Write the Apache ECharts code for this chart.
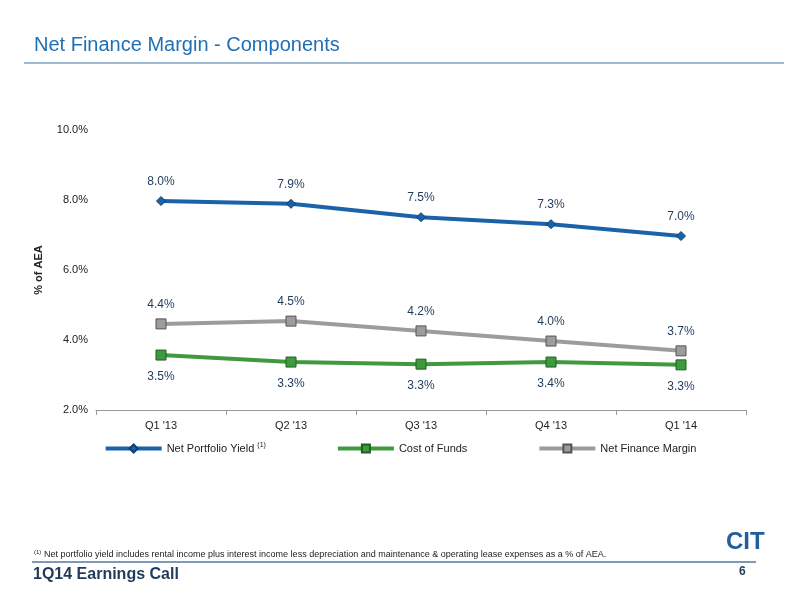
<!DOCTYPE html><html><head><meta charset="utf-8"><script src="https://cdn.jsdelivr.net/npm/echarts@6/dist/echarts.min.js"></script>
<style>body{margin:0}#c{width:800px;height:600px}</style></head><body><div id="c"></div><script>
const categories=["Q1 '13","Q2 '13","Q3 '13","Q4 '13","Q1 '14"];
const netPortfolioYield=[7.97,7.89,7.51,7.31,6.97];
const costOfFunds=[3.57,3.37,3.31,3.37,3.29];
const netFinanceMargin=[4.46,4.54,4.26,3.97,3.69];
const npyLabels=["8.0%","7.9%","7.5%","7.3%","7.0%"];
const cofLabels=["3.5%","3.3%","3.3%","3.4%","3.3%"];
const nfmLabels=["4.4%","4.5%","4.2%","4.0%","3.7%"];
const yTicks=[2,4,6,8,10];
const F='Liberation Sans, Arial, sans-serif';
const chart=echarts.init(document.getElementById('c'));
function ser(name,data,labels,color,border,symbol,size,pos){
  return {name,type:'line',data,symbol,symbolSize:size,lineStyle:{color,width:4},
    itemStyle:{color,borderColor:border,borderWidth:1},
    label:{show:true,position:pos,distance:pos==='top'?8:10,color:'#1f3a5a',fontSize:12,fontFamily:F,formatter:p=>labels[p.dataIndex]}};
}
chart.setOption({
  animation:false,
  textStyle:{fontFamily:F},
  graphic:[
    {type:'text',left:34,top:35,style:{text:'Net Finance Margin - Components',fill:'#1f6fb5',font:'20px '+F}},
    {type:'rect',shape:{x:24,y:62,width:760,height:2},style:{fill:'#9fb8d3'}},
    {type:'text',left:34,top:549,style:{text:'(1)',fill:'#222',font:'6px '+F}},
    {type:'text',left:44,top:550,style:{text:'Net portfolio yield includes rental income plus interest income less depreciation and maintenance & operating lease expenses as a % of AEA.',fill:'#222',font:'9px '+F}},
    {type:'rect',shape:{x:32,y:561,width:724,height:2},style:{fill:'#7a9ab8'}},
    {type:'text',left:33,top:567,style:{text:'1Q14 Earnings Call',fill:'#1f3a5a',font:'bold 16px '+F}},
    {type:'text',left:739,top:566,style:{text:'6',fill:'#1f3a5a',font:'bold 12px '+F}},
    {type:'text',left:726,top:530,style:{text:'CIT',fill:'#1f5fa0',font:'bold 24px '+F}}
  ],
  grid:{left:96,right:54,top:130,bottom:190},
  legend:{top:437,left:'center',itemGap:70,itemWidth:56,itemHeight:10,lineStyle:{width:4},
    data:['Net Portfolio Yield','Cost of Funds','Net Finance Margin'],
    formatter:n=>n==='Net Portfolio Yield'?n+' {s|(1)}':n,
    textStyle:{fontSize:11,color:'#222',rich:{s:{fontSize:7,verticalAlign:'top',padding:[0,0,6,0]}}}},
  xAxis:{type:'category',data:categories,axisLine:{lineStyle:{color:'#999'}},axisTick:{show:true,lineStyle:{color:'#999'}},
    axisLabel:{color:'#222',fontSize:11,margin:10}},
  yAxis:{type:'value',min:2,max:10,interval:2,name:'% of AEA',nameLocation:'middle',nameGap:52,nameTextStyle:{fontWeight:'bold',fontSize:11,color:'#222'},
    axisLine:{show:false},axisTick:{show:false},splitLine:{show:false},
    axisLabel:{color:'#222',fontSize:11,formatter:v=>yTicks.includes(v)?v.toFixed(1)+'%':''}},
  series:[
    ser('Net Portfolio Yield',netPortfolioYield,npyLabels,'#1a63a8','#0d3f73','diamond',9,'top'),
    ser('Cost of Funds',costOfFunds,cofLabels,'#3f9a3f','#1f5f1f','rect',10,'bottom'),
    ser('Net Finance Margin',netFinanceMargin,nfmLabels,'#9c9c9c','#555','rect',10,'top')
  ]
});
</script></body></html>
